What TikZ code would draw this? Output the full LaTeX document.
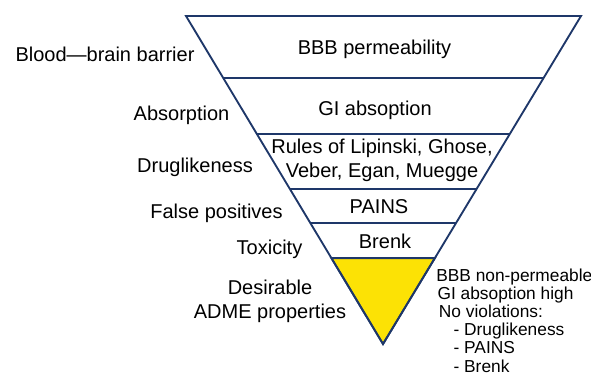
\documentclass[tikz,border=0pt]{standalone}
\usepackage{fontspec}
\setmainfont{Liberation Sans}
\usetikzlibrary{calc}
\definecolor{funnelline}{RGB}{30,55,105}
\definecolor{funnelfill}{RGB}{252,226,5}
\tikzset{
  layertext/.style={font=\fontsize{15}{18}\selectfont, inner sep=0pt, align=center, anchor=base},
  sidetext/.style={font=\fontsize{15}{17.3}\selectfont, inner sep=0pt, align=center, anchor=base},
  notetext/.style={font=\fontsize{13}{13.6}\selectfont, inner sep=0pt, align=left, anchor=base west},
  funnel/.style={draw=funnelline, line width=1.4pt},
}
\begin{document}
\begin{tikzpicture}[x=0.75pt,y=-0.75pt]
\useasboundingbox (0,0) rectangle (591,374);
\coordinate (tl) at (186,16);
\coordinate (tr) at (581,16);
\coordinate (apex) at (383,344);
% yellow tip and outline
\filldraw[funnel, fill=funnelfill] ($(tl)!0.738!(apex)$) -- ($(tr)!0.738!(apex)$) -- (apex) -- cycle;
\draw[funnel] ($(tl)!0.189!(apex)$) -- ($(tr)!0.189!(apex)$);
\draw[funnel] ($(tl)!0.360!(apex)$) -- ($(tr)!0.360!(apex)$);
\draw[funnel] ($(tl)!0.527!(apex)$) -- ($(tr)!0.527!(apex)$);
\draw[funnel] ($(tl)!0.631!(apex)$) -- ($(tr)!0.631!(apex)$);
\draw[funnel] (tl) -- (tr) -- (apex) -- cycle;
% layers (multi-line nodes sit on their last baseline)
\node[layertext] (bbb) at (374.5,55) {BBB permeability};
\node[layertext] (gi) at (375,115) {GI absoption};
\node[layertext] (rules) at (382,177) {Rules of Lipinski, Ghose,\\Veber, Egan, Muegge};
\node[layertext] (pains) at (379,213) {PAINS};
\node[layertext] (brenk) at (385,248) {Brenk};
% left labels
\node[sidetext] (bloodlbl) at (105,62) {Blood---brain barrier};
\node[sidetext] (absorplbl) at (181.5,120) {Absorption};
\node[sidetext] (druglbl) at (195,172) {Druglikeness};
\node[sidetext] (falselbl) at (216.5,218) {False positives};
\node[sidetext] (toxlbl) at (269.5,254) {Toxicity};
\node[sidetext] (admelbl) at (270,318) {Desirable\\ADME properties};
% criteria
\node[notetext] (criteria) at (436,372) {BBB non-permeable\\\hspace{1pt}GI absoption high\\\hspace{2pt}No violations:\\\hspace{13pt}- Druglikeness\\\hspace{13pt}- PAINS\\\hspace{13pt}- Brenk};
\end{tikzpicture}
\end{document}
